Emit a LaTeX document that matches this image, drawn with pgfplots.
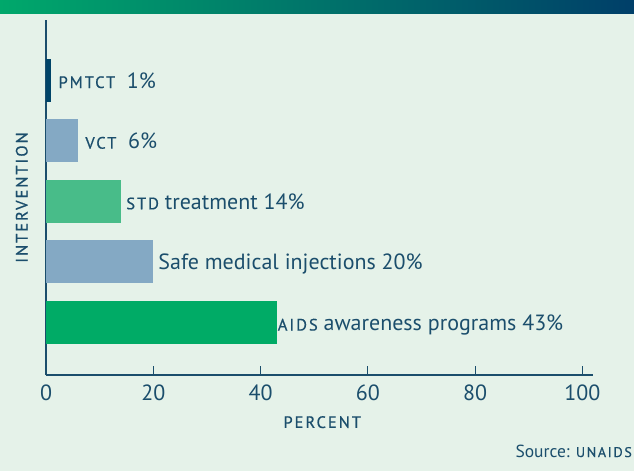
\documentclass[border=0pt]{standalone}
\usepackage{fontspec}
\setmainfont{PT Sans}
\newfontfamily\capsf[LetterSpace=12,FakeBold=0.6]{PT Sans}
\usepackage{pgfplots}
\pgfplotsset{compat=1.18}
\definecolor{bgmint}{RGB}{229,242,233}
\definecolor{textblue}{RGB}{27,78,108}
\definecolor{navybar}{RGB}{0,68,104}
\definecolor{steelbar}{RGB}{132,169,196}
\definecolor{midgreen}{RGB}{72,188,137}
\definecolor{deepgreen}{RGB}{0,171,102}
\definecolor{gradL}{RGB}{0,168,107}
\definecolor{gradR}{RGB}{0,63,105}
\newcommand\smc[1]{{\capsf\fontsize{16.5}{18}\selectfont #1}}
\newcommand\smcs[1]{{\capsf\fontsize{14}{15}\selectfont #1}}

\begin{document}
\begin{tikzpicture}
\fill[bgmint] (0,0) rectangle (634pt,471pt);
\shade[left color=gradL, right color=gradR] (0,457pt) rectangle (634pt,471pt);
\begin{axis}[
  at={(46pt,96pt)}, anchor=south west,
  scale only axis, width=547pt, height=355pt,
  xmin=0, xmax=102, ymin=0.134, ymax=5.99,
  axis x line*=bottom, axis y line*=left,
  axis line style={-, draw=textblue, line width=1.2pt},
  xtick={0,20,...,100}, ytick=\empty,
  tick align=inside, major tick length=9pt,
  tick style={draw=textblue, line width=1pt},
  /pgf/number format/assume math mode=true,
  xticklabel style={font=\fontsize{22}{24}\selectfont, text=textblue, inner sep=0pt, yshift=-10pt},
  xlabel={\smc{PERCENT}},
  xlabel style={at={(axis description cs:0.505,0)}, anchor=north, inner sep=0pt, yshift=-41pt, text=textblue},
  ylabel={\smc{INTERVENTION}},
  ylabel style={at={(axis description cs:-0.033,0.5)}, anchor=south, inner sep=0pt, text=textblue},
  xbar, bar width=43pt, bar shift=0pt,
  every node near coord/.style={font=\fontsize{22}{24}\selectfont, text=textblue, anchor=base west, inner sep=0pt, yshift=-8pt},
]
\addplot[fill=navybar, draw=none, nodes near coords={\smc{PMTCT}\ \ 1\%}, nodes near coords style={xshift=7pt}] coordinates {(1,5)};
\addplot[fill=steelbar, draw=none, nodes near coords={\smc{VCT}\ \ 6\%}, nodes near coords style={xshift=7pt}] coordinates {(6,4)};
\addplot[fill=midgreen, draw=none, nodes near coords={\smc{STD} treatment 14\%}, nodes near coords style={xshift=5pt}] coordinates {(14,3)};
\addplot[fill=steelbar, draw=none, nodes near coords={Safe medical injections 20\%}, nodes near coords style={xshift=5pt}] coordinates {(20,2)};
\addplot[fill=deepgreen, draw=none, nodes near coords={\smc{AIDS} awareness programs 43\%}, nodes near coords style={xshift=1pt}] coordinates {(43,1)};
\end{axis}
\node[anchor=base east, text=textblue, font=\fontsize{17.5}{19}\selectfont, inner sep=0pt] at (632pt,14pt) {Source: \smcs{UNAIDS}};
\pgfresetboundingbox
\path[use as bounding box] (0,0) rectangle (634pt,471pt);
\end{tikzpicture}
\end{document}
